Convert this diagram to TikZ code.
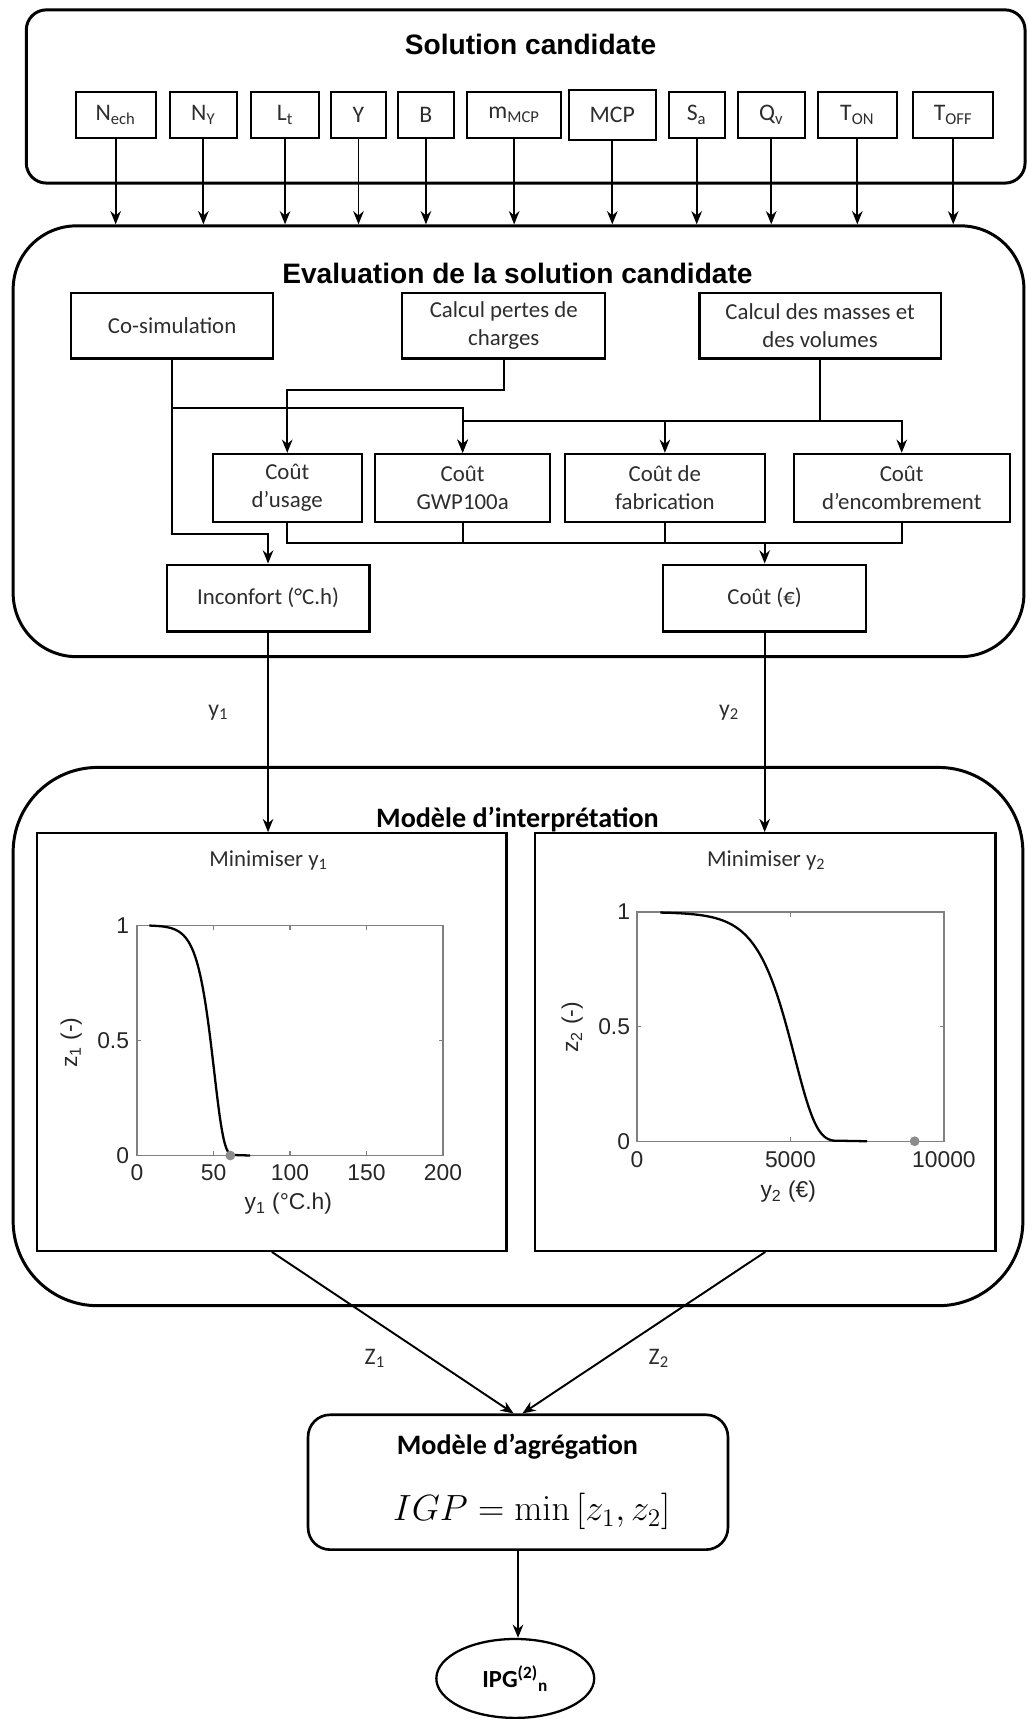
\documentclass[tikz,border=0pt]{standalone}
\usepackage[no-math]{fontspec}
\setmainfont{Carlito}
\newfontfamily\arialf{Liberation Sans}
\usetikzlibrary{arrows.meta,shapes.geometric,calc}
\definecolor{txt}{RGB}{45,45,45}
\definecolor{axgray}{RGB}{128,128,128}
\definecolor{dotgray}{RGB}{140,140,140}
\newlength\ux
\setlength\ux{0.021923cm}
\newcommand\bx[6]{\node[box, minimum width={(#4-#2)*\ux}, minimum height={(#5-#3)*\ux}] (#1) at ({(#2+#4)/2},{(#3+#5)/2}) {#6};}
\begin{document}
\begin{tikzpicture}[x=0.021923cm, y=-0.021923cm,
  outer/.style={draw, line width=1.7pt, inner sep=0pt},
  box/.style={draw, line width=1.2pt, inner sep=1pt, align=center, text=txt, font=\fontsize{13}{16}\selectfont},
  ttl/.style={font=\arialf\bfseries\fontsize{16}{19}\selectfont, inner sep=0pt},
  ctl/.style={font=\bfseries\fontsize{16}{19}\selectfont, inner sep=0pt},
  lbl/.style={text=txt, font=\fontsize{13.5}{16}\selectfont, inner sep=0pt},
  tk/.style={font=\arialf\fontsize{13}{15}\selectfont, inner sep=0pt, text=black!85},
  conn/.style={line width=1.1pt},
  arr/.style={conn, -{Stealth[length=7.5pt,width=6pt]}},
  axis/.style={draw=axgray, line width=0.8pt},
  curve/.style={line width=1.3pt, line join=round}]
\useasboundingbox (0,0) rectangle (936,1568);

% ---------- Solution candidate ----------
\node[outer, rounded corners=0.40cm, minimum width={911*\ux}, minimum height={158*\ux}] (solbox) at (479.5,88) {};
\node[ttl] (soltitle) at (484,41) {Solution candidate};
\begin{scope}[box/.append style={font=\fontsize{13.5}{16}\selectfont}]
\bx{p1}{69}{84}{142}{126}{N\textsubscript{ech}}
\bx{p2}{155}{84}{216}{126}{N\textsubscript{Y}}
\bx{p3}{229}{84}{291}{126}{L\textsubscript{t}}
\bx{p4}{302}{84}{352}{126}{Y}
\bx{p5}{363}{84}{414}{126}{B}
\bx{p6}{426}{84}{512}{126}{m\textsubscript{MCP}}
\bx{p7}{519}{82}{598}{128}{MCP}
\bx{p8}{610}{84}{661}{126}{S\textsubscript{a}}
\bx{p9}{673}{84}{734}{126}{Q\textsubscript{v}}
\bx{p10}{746}{84}{818}{126}{T\textsubscript{ON}}
\bx{p11}{833}{84}{906}{126}{T\textsubscript{OFF}}
\end{scope}

% ---------- Evaluation ----------
\node[outer, rounded corners=1.27cm, minimum width={922*\ux}, minimum height={393*\ux}] (evalbox) at (473,402.5) {};
\node[ttl] (evaltitle) at (472,249) {Evaluation de la solution candidate};
\foreach \p in {p1,p2,p3,p4,p5,p6,p7,p8,p9,p10,p11}
  \draw[arr] (\p.south) -- (\p.south |- evalbox.north);

\bx{cosim}{65}{267}{249}{327}{Co-simulation}
\bx{pertes}{367}{267}{552}{327}{Calcul pertes de\\charges}
\bx{masses}{638}{267}{858}{327}{Calcul des masses et\\des volumes}
\bx{usage}{194}{414}{330}{476}{Coût\\d’usage}
\bx{gwp}{342}{414}{502}{476}{Coût\\GWP100a}
\bx{fab}{515}{414}{698}{476}{Coût de\\fabrication}
\bx{enc}{724}{414}{921}{476}{Coût\\d’encombrement}
\bx{inconf}{152}{515}{337}{576}{Inconfort (°C.h)}
\bx{cout}{605}{515}{790}{576}{Coût (€)}

\coordinate (lvA) at (0,356);
\coordinate (lvB) at (0,372);
\coordinate (lvC) at (0,384);
\coordinate (lvD) at (0,487);
\coordinate (lvE) at (0,495);

\draw[arr] (pertes.south) -- (pertes.south |- lvA) -| (usage.north);
\draw[arr] (cosim.south) -- (cosim.south |- lvB) -| (gwp.north);
\draw[arr] (cosim.south) -- (cosim.south |- lvD) -| (inconf.north);
\draw[arr] (masses.south) -- (masses.south |- lvC) -| (gwp.north);
\draw[arr] (masses.south |- lvC) -| (fab.north);
\draw[arr] (masses.south |- lvC) -| (enc.north);
\draw[conn] (usage.south) -- (usage.south |- lvE) -- (enc.south |- lvE) -- (enc.south);
\draw[conn] (gwp.south) -- (gwp.south |- lvE);
\draw[conn] (fab.south) -- (fab.south |- lvE);
\draw[arr] (cout.north |- lvE) -- (cout.north);

% ---------- Interpretation ----------
\node[outer, rounded corners=1.69cm, minimum width={921*\ux}, minimum height={491*\ux}] (interpbox) at (472.5,945.5) {};
\node[draw, line width=1.2pt, inner sep=0pt, minimum width={428*\ux}, minimum height={381*\ux}] (box1) at (248,950.5) {};
\node[draw, line width=1.2pt, inner sep=0pt, minimum width={420*\ux}, minimum height={381*\ux}] (box2) at (698,950.5) {};
\node[ctl, anchor=base] (interptitle) at (472,755) {Modèle d’interprétation};

\draw[arr] (inconf.south) -- (inconf.south |- box1.north) node[lbl, pos=0.4, left=22pt] (ly1) {y\textsubscript{1}};
\draw[arr] (cout.south) -- (cout.south |- box2.north) node[lbl, pos=0.4, left=14pt] (ly2) {y\textsubscript{2}};

% plot 1
\node[lbl, anchor=base, font=\fontsize{13}{15}\selectfont] (min1) at (245,790) {Minimiser y\textsubscript{1}};
\draw[axis] (125,844) rectangle (404,1054);
\foreach \v in {50,100,150} {
  \draw[axis] ({125+1.395*\v},1054) -- ++(0,-4);
  \draw[axis] ({125+1.395*\v},844) -- ++(0,4);
}
\draw[axis] (125,949) -- ++(4,0);
\draw[axis] (404,949) -- ++(-4,0);
\draw[curve] plot[domain=8:62, samples=120, smooth] ({125+1.395*\x},{1054-210*exp(-exp(0.155*(\x-50.4)))}) -- ({125+1.395*74},1054);
\fill[dotgray] ({125+1.395*61},1054) circle[radius=2.8pt];
\node[tk] (x10) at (125,1070) {0};
\node[tk] (x11) at (194.75,1070) {50};
\node[tk] (x12) at (264.5,1070) {100};
\node[tk] (x13) at (334.25,1070) {150};
\node[tk] (x14) at (404,1070) {200};
\node[tk, anchor=east] (y10) at (118,1054) {0};
\node[tk, anchor=east] (y11) at (118,949) {0.5};
\node[tk, anchor=east] (y12) at (118,844) {1};
\node[tk] (xl1) at (263,1098) {y\textsubscript{1} (°C.h)};
\node[tk, rotate=90] (yl1) at (65,951) {z\textsubscript{1} (-)};

% plot 2
\node[lbl, anchor=base, font=\fontsize{13}{15}\selectfont] (min2) at (699,790) {Minimiser y\textsubscript{2}};
\draw[axis] (581,832) rectangle (861,1041);
\draw[axis] (721,1041) -- ++(0,-4);
\draw[axis] (721,832) -- ++(0,4);
\draw[axis] (581,936.5) -- ++(4,0);
\draw[axis] (861,936.5) -- ++(-4,0);
\draw[curve] plot[domain=760:6400, samples=120, smooth] ({581+0.028*\x},{1041-209*exp(-exp(0.0014*(\x-5137)))}) -- ({581+0.028*7500},1041);
\fill[dotgray] ({581+0.028*9046},1041) circle[radius=2.8pt];
\node[tk] (x20) at (581,1058) {0};
\node[tk] (x21) at (721,1058) {5000};
\node[tk] (x22) at (861,1058) {10000};
\node[tk, anchor=east] (y20) at (575,1041) {0};
\node[tk, anchor=east] (y21) at (575,936.5) {0.5};
\node[tk, anchor=east] (y22) at (575,832) {1};
\node[tk] (xl2) at (719,1087) {y\textsubscript{2} (€)};
\node[tk, rotate=90] (yl2) at (522,937) {z\textsubscript{2} (-)};

% ---------- Aggregation ----------
\node[outer, line width=1.5pt, rounded corners=0.44cm, minimum width={383*\ux}, minimum height={123*\ux}] (agg) at (472.5,1352) {};
\node[ctl] (aggtitle) at (472,1320) {Modèle d’agrégation};
\node[inner sep=0pt, font=\fontsize{20.74}{24}\selectfont] (formula) at (485,1379) {$IGP = \min\,[z_1, z_2]$};

\draw[arr] (box1.south) -- ($(agg.north)+(-4,0)$);
\draw[arr] (box2.south) -- ($(agg.north)+(4,0)$);
\node[lbl] (lz1) at (342,1239) {Z\textsubscript{1}};
\node[lbl] (lz2) at (601,1239) {Z\textsubscript{2}};

\node[draw, ellipse, line width=1.3pt, inner sep=0pt, minimum width={144*\ux}, minimum height={72*\ux}, font=\bfseries\fontsize{14}{16}\selectfont] (ipg) at (470,1531) {IPG\textsuperscript{(2)}\textsubscript{n}};
\draw[arr] (agg.south) -- (agg.south |- ipg.north);
\end{tikzpicture}
\end{document}
